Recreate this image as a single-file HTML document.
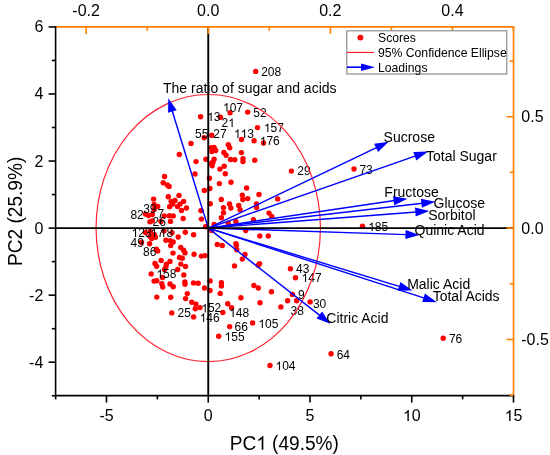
<!DOCTYPE html><html><head><meta charset="utf-8"><style>html,body{margin:0;padding:0;background:#fff;}svg{display:block;will-change:transform;}text{font-family:"Liberation Sans",sans-serif;}</style></head><body>
<svg width="550" height="455" viewBox="0 0 550 455">
<rect width="550" height="455" fill="#fff"/>
<circle cx="255.7" cy="71.4" r="2.7" fill="#FF0000"/>
<circle cx="200.6" cy="116.7" r="2.7" fill="#FF0000"/>
<circle cx="220.5" cy="117.3" r="2.7" fill="#FF0000"/>
<circle cx="230.1" cy="112.7" r="2.7" fill="#FF0000"/>
<circle cx="247.7" cy="112.1" r="2.7" fill="#FF0000"/>
<circle cx="257.5" cy="127.6" r="2.7" fill="#FF0000"/>
<circle cx="204.2" cy="137.8" r="2.7" fill="#FF0000"/>
<circle cx="211.8" cy="135.2" r="2.7" fill="#FF0000"/>
<circle cx="241.5" cy="139.5" r="2.7" fill="#FF0000"/>
<circle cx="254.1" cy="140.8" r="2.7" fill="#FF0000"/>
<circle cx="263.5" cy="143" r="2.7" fill="#FF0000"/>
<circle cx="228.3" cy="144.8" r="2.7" fill="#FF0000"/>
<circle cx="229.7" cy="147.7" r="2.7" fill="#FF0000"/>
<circle cx="211.4" cy="147.7" r="2.7" fill="#FF0000"/>
<circle cx="214.1" cy="147.5" r="2.7" fill="#FF0000"/>
<circle cx="215.7" cy="150.5" r="2.7" fill="#FF0000"/>
<circle cx="211.9" cy="151.6" r="2.7" fill="#FF0000"/>
<circle cx="223.9" cy="152.4" r="2.7" fill="#FF0000"/>
<circle cx="226.1" cy="155.3" r="2.7" fill="#FF0000"/>
<circle cx="241.4" cy="152.6" r="2.7" fill="#FF0000"/>
<circle cx="205.9" cy="159.2" r="2.7" fill="#FF0000"/>
<circle cx="214.1" cy="159.2" r="2.7" fill="#FF0000"/>
<circle cx="213" cy="162.2" r="2.7" fill="#FF0000"/>
<circle cx="211.4" cy="163.3" r="2.7" fill="#FF0000"/>
<circle cx="212.2" cy="165.8" r="2.7" fill="#FF0000"/>
<circle cx="230.5" cy="159.5" r="2.7" fill="#FF0000"/>
<circle cx="234.8" cy="159.7" r="2.7" fill="#FF0000"/>
<circle cx="243" cy="158.6" r="2.7" fill="#FF0000"/>
<circle cx="243" cy="161.6" r="2.7" fill="#FF0000"/>
<circle cx="254.7" cy="160.3" r="2.7" fill="#FF0000"/>
<circle cx="196.1" cy="161.6" r="2.7" fill="#FF0000"/>
<circle cx="224.2" cy="166.2" r="2.7" fill="#FF0000"/>
<circle cx="219.9" cy="169.1" r="2.7" fill="#FF0000"/>
<circle cx="225.3" cy="173.8" r="2.7" fill="#FF0000"/>
<circle cx="195" cy="174" r="2.7" fill="#FF0000"/>
<circle cx="291.4" cy="171.1" r="2.7" fill="#FF0000"/>
<circle cx="191" cy="143.5" r="2.7" fill="#FF0000"/>
<circle cx="179.3" cy="154.5" r="2.7" fill="#FF0000"/>
<circle cx="209.5" cy="178.2" r="2.7" fill="#FF0000"/>
<circle cx="219.4" cy="183.6" r="2.7" fill="#FF0000"/>
<circle cx="231" cy="182.3" r="2.7" fill="#FF0000"/>
<circle cx="246.6" cy="188" r="2.7" fill="#FF0000"/>
<circle cx="204.4" cy="190.4" r="2.7" fill="#FF0000"/>
<circle cx="209.9" cy="188.5" r="2.7" fill="#FF0000"/>
<circle cx="221.3" cy="199.5" r="2.7" fill="#FF0000"/>
<circle cx="242.3" cy="195.3" r="2.7" fill="#FF0000"/>
<circle cx="242.8" cy="199.5" r="2.7" fill="#FF0000"/>
<circle cx="210.3" cy="203.8" r="2.7" fill="#FF0000"/>
<circle cx="229.5" cy="204" r="2.7" fill="#FF0000"/>
<circle cx="230.8" cy="208" r="2.7" fill="#FF0000"/>
<circle cx="223.5" cy="207.6" r="2.7" fill="#FF0000"/>
<circle cx="238.7" cy="205.5" r="2.7" fill="#FF0000"/>
<circle cx="240.1" cy="209.8" r="2.7" fill="#FF0000"/>
<circle cx="223.5" cy="212.8" r="2.7" fill="#FF0000"/>
<circle cx="201.1" cy="210.6" r="2.7" fill="#FF0000"/>
<circle cx="259" cy="194.5" r="2.7" fill="#FF0000"/>
<circle cx="247.7" cy="198.6" r="2.7" fill="#FF0000"/>
<circle cx="277.7" cy="198.9" r="2.7" fill="#FF0000"/>
<circle cx="256.5" cy="204" r="2.7" fill="#FF0000"/>
<circle cx="256.5" cy="207.6" r="2.7" fill="#FF0000"/>
<circle cx="269" cy="213.1" r="2.7" fill="#FF0000"/>
<circle cx="271.8" cy="216.4" r="2.7" fill="#FF0000"/>
<circle cx="253.5" cy="219.8" r="2.7" fill="#FF0000"/>
<circle cx="221.4" cy="217.7" r="2.7" fill="#FF0000"/>
<circle cx="214.1" cy="224.5" r="2.7" fill="#FF0000"/>
<circle cx="228.2" cy="223.2" r="2.7" fill="#FF0000"/>
<circle cx="235.9" cy="221.4" r="2.7" fill="#FF0000"/>
<circle cx="205.7" cy="226.7" r="2.7" fill="#FF0000"/>
<circle cx="211.8" cy="230.5" r="2.7" fill="#FF0000"/>
<circle cx="245.7" cy="230.5" r="2.7" fill="#FF0000"/>
<circle cx="354" cy="169" r="2.7" fill="#FF0000"/>
<circle cx="362.5" cy="226.3" r="2.7" fill="#FF0000"/>
<circle cx="164.5" cy="176.5" r="2.7" fill="#FF0000"/>
<circle cx="163.2" cy="182.7" r="2.7" fill="#FF0000"/>
<circle cx="167.3" cy="185" r="2.7" fill="#FF0000"/>
<circle cx="169.1" cy="186.4" r="2.7" fill="#FF0000"/>
<circle cx="153.6" cy="199.1" r="2.7" fill="#FF0000"/>
<circle cx="168.3" cy="196.8" r="2.7" fill="#FF0000"/>
<circle cx="179" cy="195.4" r="2.7" fill="#FF0000"/>
<circle cx="171.2" cy="201.4" r="2.7" fill="#FF0000"/>
<circle cx="175" cy="200.5" r="2.7" fill="#FF0000"/>
<circle cx="183.6" cy="201.4" r="2.7" fill="#FF0000"/>
<circle cx="172.7" cy="204.1" r="2.7" fill="#FF0000"/>
<circle cx="169.6" cy="206.8" r="2.7" fill="#FF0000"/>
<circle cx="180" cy="204.1" r="2.7" fill="#FF0000"/>
<circle cx="177.5" cy="206.6" r="2.7" fill="#FF0000"/>
<circle cx="186.4" cy="208" r="2.7" fill="#FF0000"/>
<circle cx="181.5" cy="210.5" r="2.7" fill="#FF0000"/>
<circle cx="157.7" cy="206.4" r="2.7" fill="#FF0000"/>
<circle cx="154.1" cy="204.5" r="2.7" fill="#FF0000"/>
<circle cx="145.5" cy="214.1" r="2.7" fill="#FF0000"/>
<circle cx="148.6" cy="215.5" r="2.7" fill="#FF0000"/>
<circle cx="152.3" cy="214.5" r="2.7" fill="#FF0000"/>
<circle cx="150" cy="221.8" r="2.7" fill="#FF0000"/>
<circle cx="152.3" cy="220.9" r="2.7" fill="#FF0000"/>
<circle cx="160.9" cy="221.4" r="2.7" fill="#FF0000"/>
<circle cx="164.2" cy="215.9" r="2.7" fill="#FF0000"/>
<circle cx="169.5" cy="215.7" r="2.7" fill="#FF0000"/>
<circle cx="173.2" cy="215.9" r="2.7" fill="#FF0000"/>
<circle cx="170.5" cy="221.4" r="2.7" fill="#FF0000"/>
<circle cx="183.2" cy="218.5" r="2.7" fill="#FF0000"/>
<circle cx="201.4" cy="219.1" r="2.7" fill="#FF0000"/>
<circle cx="201.1" cy="210.6" r="2.7" fill="#FF0000"/>
<circle cx="154.1" cy="209.5" r="2.7" fill="#FF0000"/>
<circle cx="145.5" cy="232.4" r="2.7" fill="#FF0000"/>
<circle cx="150.5" cy="231.5" r="2.7" fill="#FF0000"/>
<circle cx="150" cy="236.5" r="2.7" fill="#FF0000"/>
<circle cx="151.7" cy="238.5" r="2.7" fill="#FF0000"/>
<circle cx="154.5" cy="234.8" r="2.7" fill="#FF0000"/>
<circle cx="155.4" cy="237.3" r="2.7" fill="#FF0000"/>
<circle cx="164" cy="230.9" r="2.7" fill="#FF0000"/>
<circle cx="172" cy="232.7" r="2.7" fill="#FF0000"/>
<circle cx="165.9" cy="240.2" r="2.7" fill="#FF0000"/>
<circle cx="170.3" cy="240.6" r="2.7" fill="#FF0000"/>
<circle cx="173.2" cy="242" r="2.7" fill="#FF0000"/>
<circle cx="141.5" cy="242.5" r="2.7" fill="#FF0000"/>
<circle cx="149.6" cy="243.8" r="2.7" fill="#FF0000"/>
<circle cx="156.4" cy="249.3" r="2.7" fill="#FF0000"/>
<circle cx="157.7" cy="251.1" r="2.7" fill="#FF0000"/>
<circle cx="170.7" cy="245.6" r="2.7" fill="#FF0000"/>
<circle cx="173" cy="253.1" r="2.7" fill="#FF0000"/>
<circle cx="185.3" cy="232.2" r="2.7" fill="#FF0000"/>
<circle cx="193.6" cy="234.7" r="2.7" fill="#FF0000"/>
<circle cx="178.2" cy="237" r="2.7" fill="#FF0000"/>
<circle cx="180.7" cy="247.5" r="2.7" fill="#FF0000"/>
<circle cx="183.6" cy="250.2" r="2.7" fill="#FF0000"/>
<circle cx="185" cy="252.9" r="2.7" fill="#FF0000"/>
<circle cx="194.1" cy="254.3" r="2.7" fill="#FF0000"/>
<circle cx="201.4" cy="256.1" r="2.7" fill="#FF0000"/>
<circle cx="205" cy="255.6" r="2.7" fill="#FF0000"/>
<circle cx="179.5" cy="257.5" r="2.7" fill="#FF0000"/>
<circle cx="182.3" cy="258.2" r="2.7" fill="#FF0000"/>
<circle cx="161.1" cy="260.4" r="2.7" fill="#FF0000"/>
<circle cx="170" cy="261.4" r="2.7" fill="#FF0000"/>
<circle cx="155" cy="263.5" r="2.7" fill="#FF0000"/>
<circle cx="156.6" cy="266.2" r="2.7" fill="#FF0000"/>
<circle cx="166.4" cy="264.1" r="2.7" fill="#FF0000"/>
<circle cx="165.9" cy="266.8" r="2.7" fill="#FF0000"/>
<circle cx="164.5" cy="269.5" r="2.7" fill="#FF0000"/>
<circle cx="151.2" cy="273.9" r="2.7" fill="#FF0000"/>
<circle cx="162.5" cy="277.5" r="2.7" fill="#FF0000"/>
<circle cx="154.1" cy="281.1" r="2.7" fill="#FF0000"/>
<circle cx="156.8" cy="280.8" r="2.7" fill="#FF0000"/>
<circle cx="161.8" cy="283.8" r="2.7" fill="#FF0000"/>
<circle cx="162.7" cy="287" r="2.7" fill="#FF0000"/>
<circle cx="170" cy="284" r="2.7" fill="#FF0000"/>
<circle cx="173.2" cy="286.8" r="2.7" fill="#FF0000"/>
<circle cx="180.8" cy="264.1" r="2.7" fill="#FF0000"/>
<circle cx="185.5" cy="266.4" r="2.7" fill="#FF0000"/>
<circle cx="177.7" cy="269.5" r="2.7" fill="#FF0000"/>
<circle cx="183.8" cy="274.9" r="2.7" fill="#FF0000"/>
<circle cx="184.9" cy="282" r="2.7" fill="#FF0000"/>
<circle cx="185" cy="284.2" r="2.7" fill="#FF0000"/>
<circle cx="193.5" cy="282.9" r="2.7" fill="#FF0000"/>
<circle cx="198.2" cy="283.2" r="2.7" fill="#FF0000"/>
<circle cx="210.1" cy="280.9" r="2.7" fill="#FF0000"/>
<circle cx="204.5" cy="288" r="2.7" fill="#FF0000"/>
<circle cx="156.8" cy="297.1" r="2.7" fill="#FF0000"/>
<circle cx="170.7" cy="297.3" r="2.7" fill="#FF0000"/>
<circle cx="171.8" cy="312.9" r="2.7" fill="#FF0000"/>
<circle cx="187.3" cy="293.6" r="2.7" fill="#FF0000"/>
<circle cx="185.6" cy="298.6" r="2.7" fill="#FF0000"/>
<circle cx="191.8" cy="302.3" r="2.7" fill="#FF0000"/>
<circle cx="195.9" cy="304.1" r="2.7" fill="#FF0000"/>
<circle cx="195.3" cy="308.8" r="2.7" fill="#FF0000"/>
<circle cx="200" cy="307.6" r="2.7" fill="#FF0000"/>
<circle cx="193.6" cy="316.9" r="2.7" fill="#FF0000"/>
<circle cx="210" cy="290.5" r="2.7" fill="#FF0000"/>
<circle cx="220.2" cy="293.4" r="2.7" fill="#FF0000"/>
<circle cx="221.4" cy="282.7" r="2.7" fill="#FF0000"/>
<circle cx="221.4" cy="285.9" r="2.7" fill="#FF0000"/>
<circle cx="217.3" cy="244.5" r="2.7" fill="#FF0000"/>
<circle cx="222.3" cy="245.5" r="2.7" fill="#FF0000"/>
<circle cx="235.9" cy="243.6" r="2.7" fill="#FF0000"/>
<circle cx="236.4" cy="245.5" r="2.7" fill="#FF0000"/>
<circle cx="236.8" cy="249.8" r="2.7" fill="#FF0000"/>
<circle cx="245" cy="254.5" r="2.7" fill="#FF0000"/>
<circle cx="242.3" cy="259.1" r="2.7" fill="#FF0000"/>
<circle cx="234.5" cy="265.9" r="2.7" fill="#FF0000"/>
<circle cx="259.8" cy="236" r="2.7" fill="#FF0000"/>
<circle cx="268.3" cy="236" r="2.7" fill="#FF0000"/>
<circle cx="259.6" cy="263.6" r="2.7" fill="#FF0000"/>
<circle cx="258.2" cy="265.3" r="2.7" fill="#FF0000"/>
<circle cx="290.4" cy="268.8" r="2.7" fill="#FF0000"/>
<circle cx="295.5" cy="277.8" r="2.7" fill="#FF0000"/>
<circle cx="253.9" cy="285.5" r="2.7" fill="#FF0000"/>
<circle cx="258.3" cy="288" r="2.7" fill="#FF0000"/>
<circle cx="271.4" cy="291.8" r="2.7" fill="#FF0000"/>
<circle cx="292.5" cy="294.4" r="2.7" fill="#FF0000"/>
<circle cx="287.6" cy="300.8" r="2.7" fill="#FF0000"/>
<circle cx="296.6" cy="300.8" r="2.7" fill="#FF0000"/>
<circle cx="310.1" cy="301.9" r="2.7" fill="#FF0000"/>
<circle cx="280.9" cy="306.9" r="2.7" fill="#FF0000"/>
<circle cx="260" cy="302.7" r="2.7" fill="#FF0000"/>
<circle cx="240.9" cy="297.7" r="2.7" fill="#FF0000"/>
<circle cx="227.7" cy="303.8" r="2.7" fill="#FF0000"/>
<circle cx="231.6" cy="307.7" r="2.7" fill="#FF0000"/>
<circle cx="222.8" cy="312.5" r="2.7" fill="#FF0000"/>
<circle cx="229.7" cy="326.6" r="2.7" fill="#FF0000"/>
<circle cx="252.6" cy="322.9" r="2.7" fill="#FF0000"/>
<circle cx="218.7" cy="336.3" r="2.7" fill="#FF0000"/>
<circle cx="270" cy="365.5" r="2.7" fill="#FF0000"/>
<circle cx="331.1" cy="353.8" r="2.7" fill="#FF0000"/>
<circle cx="443.2" cy="338.2" r="2.7" fill="#FF0000"/>
<g transform="matrix(1 0 0 1.045 0 -3.424)"><text x="261.20" y="76.10" font-size="12" fill="#000">208</text></g>
<g transform="matrix(1 0 0 1.045 0 -5.022)"><text x="222.99" y="111.60" font-size="12" style="font-kerning:none" fill="#000"> 07</text><path transform="translate(222.99,111.60) scale(0.00586,-0.00563)" d="M763,0 L583,0 L583,1147 Q518,1085 412,1023 Q307,961 223,930 L223,1104 Q374,1175 487,1272 Q600,1369 653,1466 L763,1466 Z" fill="#000"/></g>
<g transform="matrix(1 0 0 1.045 0 -5.265)"><text x="253.22" y="117.00" font-size="12" fill="#000">52</text></g>
<g transform="matrix(1 0 0 1.045 0 -5.445)"><text x="207.19" y="121.00" font-size="12" style="font-kerning:none" fill="#000"> 3</text><path transform="translate(207.19,121.00) scale(0.00586,-0.00563)" d="M763,0 L583,0 L583,1147 Q518,1085 412,1023 Q307,961 223,930 L223,1104 Q374,1175 487,1272 Q600,1369 653,1466 L763,1466 Z" fill="#000"/></g>
<g transform="matrix(1 0 0 1.045 0 -5.715)"><text x="221.50" y="127.00" font-size="12" style="font-kerning:none" fill="#000">2 </text><path transform="translate(228.17,127.00) scale(0.00586,-0.00563)" d="M763,0 L583,0 L583,1147 Q518,1085 412,1023 Q307,961 223,930 L223,1104 Q374,1175 487,1272 Q600,1369 653,1466 L763,1466 Z" fill="#000"/></g>
<g transform="matrix(1 0 0 1.045 0 -5.940)"><text x="263.89" y="132.00" font-size="12" style="font-kerning:none" fill="#000"> 57</text><path transform="translate(263.89,132.00) scale(0.00586,-0.00563)" d="M763,0 L583,0 L583,1147 Q518,1085 412,1023 Q307,961 223,930 L223,1104 Q374,1175 487,1272 Q600,1369 653,1466 L763,1466 Z" fill="#000"/></g>
<g transform="matrix(1 0 0 1.045 0 -6.205)"><text x="195.12" y="137.90" font-size="12" fill="#000">55</text></g>
<g transform="matrix(1 0 0 1.045 0 -6.205)"><text x="213.30" y="137.90" font-size="12" fill="#000">27</text></g>
<g transform="matrix(1 0 0 1.045 0 -6.205)"><text x="233.99" y="137.90" font-size="12" style="font-kerning:none" fill="#000">  3</text><path transform="translate(233.99,137.90) scale(0.00586,-0.00563)" d="M763,0 L583,0 L583,1147 Q518,1085 412,1023 Q307,961 223,930 L223,1104 Q374,1175 487,1272 Q600,1369 653,1466 L763,1466 Z" fill="#000"/><path transform="translate(240.67,137.90) scale(0.00586,-0.00563)" d="M763,0 L583,0 L583,1147 Q518,1085 412,1023 Q307,961 223,930 L223,1104 Q374,1175 487,1272 Q600,1369 653,1466 L763,1466 Z" fill="#000"/></g>
<g transform="matrix(1 0 0 1.045 0 -6.538)"><text x="259.79" y="145.30" font-size="12" style="font-kerning:none" fill="#000"> 76</text><path transform="translate(259.79,145.30) scale(0.00586,-0.00563)" d="M763,0 L583,0 L583,1147 Q518,1085 412,1023 Q307,961 223,930 L223,1104 Q374,1175 487,1272 Q600,1369 653,1466 L763,1466 Z" fill="#000"/></g>
<g transform="matrix(1 0 0 1.045 0 -7.884)"><text x="297.30" y="175.20" font-size="12" fill="#000">29</text></g>
<g transform="matrix(1 0 0 1.045 0 -7.816)"><text x="359.39" y="173.70" font-size="12" fill="#000">73</text></g>
<g transform="matrix(1 0 0 1.045 0 -10.395)"><text x="368.19" y="231.00" font-size="12" style="font-kerning:none" fill="#000"> 85</text><path transform="translate(368.19,231.00) scale(0.00586,-0.00563)" d="M763,0 L583,0 L583,1147 Q518,1085 412,1023 Q307,961 223,930 L223,1104 Q374,1175 487,1272 Q600,1369 653,1466 L763,1466 Z" fill="#000"/></g>
<g transform="matrix(1 0 0 1.045 0 -9.841)"><text x="130.38" y="218.70" font-size="12" fill="#000">82</text></g>
<g transform="matrix(1 0 0 1.045 0 -9.594)"><text x="143.14" y="213.20" font-size="12" fill="#000">39</text></g>
<g transform="matrix(1 0 0 1.045 0 -9.819)"><text x="157.59" y="218.20" font-size="12" fill="#000">7</text></g>
<g transform="matrix(1 0 0 1.045 0 -10.170)"><text x="152.60" y="226.00" font-size="12" fill="#000">26</text></g>
<g transform="matrix(1 0 0 1.045 0 -10.660)"><text x="131.59" y="236.90" font-size="12" style="font-kerning:none" fill="#000"> 23</text><path transform="translate(131.59,236.90) scale(0.00586,-0.00563)" d="M763,0 L583,0 L583,1147 Q518,1085 412,1023 Q307,961 223,930 L223,1104 Q374,1175 487,1272 Q600,1369 653,1466 L763,1466 Z" fill="#000"/></g>
<g transform="matrix(1 0 0 1.045 0 -10.660)"><text x="150.59" y="236.90" font-size="12" style="font-kerning:none" fill="#000"> 7</text><path transform="translate(150.59,236.90) scale(0.00586,-0.00563)" d="M763,0 L583,0 L583,1147 Q518,1085 412,1023 Q307,961 223,930 L223,1104 Q374,1175 487,1272 Q600,1369 653,1466 L763,1466 Z" fill="#000"/></g>
<g transform="matrix(1 0 0 1.045 0 -10.660)"><text x="159.79" y="236.90" font-size="12" style="font-kerning:none" fill="#000"> 8</text><path transform="translate(159.79,236.90) scale(0.00586,-0.00563)" d="M763,0 L583,0 L583,1147 Q518,1085 412,1023 Q307,961 223,930 L223,1104 Q374,1175 487,1272 Q600,1369 653,1466 L763,1466 Z" fill="#000"/></g>
<g transform="matrix(1 0 0 1.045 0 -11.106)"><text x="130.62" y="246.80" font-size="12" fill="#000">49</text></g>
<g transform="matrix(1 0 0 1.045 0 -11.502)"><text x="143.08" y="255.60" font-size="12" fill="#000">86</text></g>
<g transform="matrix(1 0 0 1.045 0 -12.519)"><text x="156.39" y="278.20" font-size="12" style="font-kerning:none" fill="#000"> 58</text><path transform="translate(156.39,278.20) scale(0.00586,-0.00563)" d="M763,0 L583,0 L583,1147 Q518,1085 412,1023 Q307,961 223,930 L223,1104 Q374,1175 487,1272 Q600,1369 653,1466 L763,1466 Z" fill="#000"/></g>
<g transform="matrix(1 0 0 1.045 0 -14.278)"><text x="177.50" y="317.30" font-size="12" fill="#000">25</text></g>
<g transform="matrix(1 0 0 1.045 0 -14.062)"><text x="201.29" y="312.50" font-size="12" style="font-kerning:none" fill="#000"> 52</text><path transform="translate(201.29,312.50) scale(0.00586,-0.00563)" d="M763,0 L583,0 L583,1147 Q518,1085 412,1023 Q307,961 223,930 L223,1104 Q374,1175 487,1272 Q600,1369 653,1466 L763,1466 Z" fill="#000"/></g>
<g transform="matrix(1 0 0 1.045 0 -14.485)"><text x="199.69" y="321.90" font-size="12" style="font-kerning:none" fill="#000"> 46</text><path transform="translate(199.69,321.90) scale(0.00586,-0.00563)" d="M763,0 L583,0 L583,1147 Q518,1085 412,1023 Q307,961 223,930 L223,1104 Q374,1175 487,1272 Q600,1369 653,1466 L763,1466 Z" fill="#000"/></g>
<g transform="matrix(1 0 0 1.045 0 -14.260)"><text x="229.19" y="316.90" font-size="12" style="font-kerning:none" fill="#000"> 48</text><path transform="translate(229.19,316.90) scale(0.00586,-0.00563)" d="M763,0 L583,0 L583,1147 Q518,1085 412,1023 Q307,961 223,930 L223,1104 Q374,1175 487,1272 Q600,1369 653,1466 L763,1466 Z" fill="#000"/></g>
<g transform="matrix(1 0 0 1.045 0 -14.904)"><text x="234.59" y="331.20" font-size="12" fill="#000">66</text></g>
<g transform="matrix(1 0 0 1.045 0 -15.336)"><text x="224.59" y="340.80" font-size="12" style="font-kerning:none" fill="#000"> 55</text><path transform="translate(224.59,340.80) scale(0.00586,-0.00563)" d="M763,0 L583,0 L583,1147 Q518,1085 412,1023 Q307,961 223,930 L223,1104 Q374,1175 487,1272 Q600,1369 653,1466 L763,1466 Z" fill="#000"/></g>
<g transform="matrix(1 0 0 1.045 0 -14.760)"><text x="258.39" y="328.00" font-size="12" style="font-kerning:none" fill="#000"> 05</text><path transform="translate(258.39,328.00) scale(0.00586,-0.00563)" d="M763,0 L583,0 L583,1147 Q518,1085 412,1023 Q307,961 223,930 L223,1104 Q374,1175 487,1272 Q600,1369 653,1466 L763,1466 Z" fill="#000"/></g>
<g transform="matrix(1 0 0 1.045 0 -16.659)"><text x="275.49" y="370.20" font-size="12" style="font-kerning:none" fill="#000"> 04</text><path transform="translate(275.49,370.20) scale(0.00586,-0.00563)" d="M763,0 L583,0 L583,1147 Q518,1085 412,1023 Q307,961 223,930 L223,1104 Q374,1175 487,1272 Q600,1369 653,1466 L763,1466 Z" fill="#000"/></g>
<g transform="matrix(1 0 0 1.045 0 -16.141)"><text x="336.69" y="358.70" font-size="12" fill="#000">64</text></g>
<g transform="matrix(1 0 0 1.045 0 -15.426)"><text x="448.89" y="342.80" font-size="12" fill="#000">76</text></g>
<g transform="matrix(1 0 0 1.045 0 -12.303)"><text x="296.12" y="273.40" font-size="12" fill="#000">43</text></g>
<g transform="matrix(1 0 0 1.045 0 -12.694)"><text x="301.59" y="282.10" font-size="12" style="font-kerning:none" fill="#000"> 47</text><path transform="translate(301.59,282.10) scale(0.00586,-0.00563)" d="M763,0 L583,0 L583,1147 Q518,1085 412,1023 Q307,961 223,930 L223,1104 Q374,1175 487,1272 Q600,1369 653,1466 L763,1466 Z" fill="#000"/></g>
<g transform="matrix(1 0 0 1.045 0 -13.459)"><text x="298.04" y="299.10" font-size="12" fill="#000">9</text></g>
<g transform="matrix(1 0 0 1.045 0 -14.175)"><text x="290.54" y="315.00" font-size="12" fill="#000">38</text></g>
<g transform="matrix(1 0 0 1.045 0 -13.855)"><text x="312.94" y="307.90" font-size="12" fill="#000">30</text></g>
<ellipse cx="208.25" cy="228.1" rx="112.2" ry="133.6" fill="none" stroke="#FF2434" stroke-width="1.2"/>
<line x1="208.25" y1="228.1" x2="172.09" y2="110.56" stroke="#0000FF" stroke-width="1.45"/>
<polygon points="168.26,98.14 176.68,110.19 168.08,112.84" fill="#0000FF"/>
<line x1="208.25" y1="228.1" x2="376.99" y2="147.46" stroke="#0000FF" stroke-width="1.45"/>
<polygon points="388.72,141.86 378.03,151.95 374.15,143.83" fill="#0000FF"/>
<line x1="208.25" y1="228.1" x2="415.78" y2="155.81" stroke="#0000FF" stroke-width="1.45"/>
<polygon points="428.06,151.54 416.31,160.39 413.35,151.89" fill="#0000FF"/>
<line x1="208.25" y1="228.1" x2="394.63" y2="200.58" stroke="#0000FF" stroke-width="1.45"/>
<polygon points="407.49,198.68 394.30,205.18 392.98,196.28" fill="#0000FF"/>
<line x1="208.25" y1="228.1" x2="422.38" y2="203.21" stroke="#0000FF" stroke-width="1.45"/>
<polygon points="435.29,201.71 421.91,207.79 420.87,198.85" fill="#0000FF"/>
<line x1="208.25" y1="228.1" x2="416.34" y2="211.94" stroke="#0000FF" stroke-width="1.45"/>
<polygon points="429.30,210.94 415.69,216.51 414.99,207.54" fill="#0000FF"/>
<line x1="208.25" y1="228.1" x2="406.51" y2="234.60" stroke="#0000FF" stroke-width="1.45"/>
<polygon points="419.50,235.03 405.36,239.07 405.65,230.07" fill="#0000FF"/>
<line x1="208.25" y1="228.1" x2="400.03" y2="286.64" stroke="#0000FF" stroke-width="1.45"/>
<polygon points="412.47,290.43 397.76,290.65 400.39,282.04" fill="#0000FF"/>
<line x1="208.25" y1="228.1" x2="424.49" y2="298.14" stroke="#0000FF" stroke-width="1.45"/>
<polygon points="436.86,302.15 422.16,302.11 424.93,293.55" fill="#0000FF"/>
<line x1="208.25" y1="228.1" x2="320.09" y2="315.68" stroke="#0000FF" stroke-width="1.45"/>
<polygon points="330.33,323.69 316.53,318.60 322.08,311.52" fill="#0000FF"/>
<g transform="matrix(1 0 0 1.0 0 0.000)"><text x="162.99" y="93.40" font-size="14.0" fill="#000">The ratio of sugar and acids</text></g>
<g transform="matrix(1 0 0 1.0 0 0.000)"><text x="383.57" y="142.10" font-size="14.0" fill="#000">Sucrose</text></g>
<g transform="matrix(1 0 0 1.0 0 0.000)"><text x="425.99" y="161.00" font-size="14.0" fill="#000">Total Sugar</text></g>
<g transform="matrix(1 0 0 1.0 0 0.000)"><text x="384.35" y="197.10" font-size="14.0" fill="#000">Fructose</text></g>
<g transform="matrix(1 0 0 1.0 0 0.000)"><text x="433.60" y="207.80" font-size="14.0" fill="#000">Glucose</text></g>
<g transform="matrix(1 0 0 1.0 0 0.000)"><text x="428.17" y="220.10" font-size="14.0" fill="#000">Sorbitol</text></g>
<g transform="matrix(1 0 0 1.0 0 0.000)"><text x="414.54" y="234.50" font-size="14.0" fill="#000">Quinic Acid</text></g>
<g transform="matrix(1 0 0 1.0 0 0.000)"><text x="407.15" y="289.10" font-size="14.0" fill="#000">Malic Acid</text></g>
<g transform="matrix(1 0 0 1.0 0 0.000)"><text x="432.69" y="301.10" font-size="14.0" fill="#000">Total Acids</text></g>
<g transform="matrix(1 0 0 1.0 0 0.000)"><text x="326.29" y="322.70" font-size="14.0" fill="#000">Citric Acid</text></g>
<line x1="208.25" y1="27" x2="208.25" y2="395.6" stroke="#000" stroke-width="1.9"/>
<line x1="55.6" y1="228.1" x2="513.5" y2="228.1" stroke="#000" stroke-width="1.9"/>
<path d="M55.6,26.9 H513.5 V395.6" fill="none" stroke="#FF8000" stroke-width="1.65" stroke-linejoin="miter"/>
<line x1="55.6" y1="26.2" x2="55.6" y2="395.6" stroke="#000" stroke-width="1.6"/>
<line x1="55.6" y1="395.6" x2="514.3" y2="395.6" stroke="#000" stroke-width="1.6"/>
<line x1="51.800000000000004" y1="395.75" x2="55.6" y2="395.75" stroke="#000" stroke-width="1.6"/>
<line x1="48.6" y1="362.22" x2="55.6" y2="362.22" stroke="#000" stroke-width="1.6"/>
<g transform="matrix(1 0 0 1.01 0 -3.677)"><text x="43.30" y="367.72" font-size="16" text-anchor="end" fill="#000">-4</text></g>
<line x1="51.800000000000004" y1="328.69" x2="55.6" y2="328.69" stroke="#000" stroke-width="1.6"/>
<line x1="48.6" y1="295.16" x2="55.6" y2="295.16" stroke="#000" stroke-width="1.6"/>
<g transform="matrix(1 0 0 1.01 0 -3.007)"><text x="43.30" y="300.66" font-size="16" text-anchor="end" fill="#000">-2</text></g>
<line x1="51.800000000000004" y1="261.63" x2="55.6" y2="261.63" stroke="#000" stroke-width="1.6"/>
<line x1="48.6" y1="228.10" x2="55.6" y2="228.10" stroke="#000" stroke-width="1.6"/>
<g transform="matrix(1 0 0 1.01 0 -2.336)"><text x="43.30" y="233.60" font-size="16" text-anchor="end" fill="#000">0</text></g>
<line x1="51.800000000000004" y1="194.57" x2="55.6" y2="194.57" stroke="#000" stroke-width="1.6"/>
<line x1="48.6" y1="161.04" x2="55.6" y2="161.04" stroke="#000" stroke-width="1.6"/>
<g transform="matrix(1 0 0 1.01 0 -1.665)"><text x="43.30" y="166.54" font-size="16" text-anchor="end" fill="#000">2</text></g>
<line x1="51.800000000000004" y1="127.51" x2="55.6" y2="127.51" stroke="#000" stroke-width="1.6"/>
<line x1="48.6" y1="93.98" x2="55.6" y2="93.98" stroke="#000" stroke-width="1.6"/>
<g transform="matrix(1 0 0 1.01 0 -0.995)"><text x="43.30" y="99.48" font-size="16" text-anchor="end" fill="#000">4</text></g>
<line x1="51.800000000000004" y1="60.45" x2="55.6" y2="60.45" stroke="#000" stroke-width="1.6"/>
<line x1="48.6" y1="26.92" x2="55.6" y2="26.92" stroke="#000" stroke-width="1.6"/>
<g transform="matrix(1 0 0 1.01 0 -0.324)"><text x="43.30" y="32.42" font-size="16" text-anchor="end" fill="#000">6</text></g>
<line x1="55.62" y1="395.6" x2="55.62" y2="399.40000000000003" stroke="#000" stroke-width="1.6"/>
<line x1="106.50" y1="395.6" x2="106.50" y2="402.6" stroke="#000" stroke-width="1.6"/>
<g transform="matrix(1 0 0 1.01 0 -4.211)"><text x="106.50" y="421.10" font-size="16" text-anchor="middle" fill="#000">-5</text></g>
<line x1="157.38" y1="395.6" x2="157.38" y2="399.40000000000003" stroke="#000" stroke-width="1.6"/>
<line x1="208.25" y1="395.6" x2="208.25" y2="402.6" stroke="#000" stroke-width="1.6"/>
<g transform="matrix(1 0 0 1.01 0 -4.211)"><text x="208.25" y="421.10" font-size="16" text-anchor="middle" fill="#000">0</text></g>
<line x1="259.12" y1="395.6" x2="259.12" y2="399.40000000000003" stroke="#000" stroke-width="1.6"/>
<line x1="310.00" y1="395.6" x2="310.00" y2="402.6" stroke="#000" stroke-width="1.6"/>
<g transform="matrix(1 0 0 1.01 0 -4.211)"><text x="310.00" y="421.10" font-size="16" text-anchor="middle" fill="#000">5</text></g>
<line x1="360.88" y1="395.6" x2="360.88" y2="399.40000000000003" stroke="#000" stroke-width="1.6"/>
<line x1="411.75" y1="395.6" x2="411.75" y2="402.6" stroke="#000" stroke-width="1.6"/>
<g transform="matrix(1 0 0 1.01 0 -4.211)"><text x="402.85" y="421.10" font-size="16" style="font-kerning:none" fill="#000"> 0</text><path transform="translate(402.85,421.10) scale(0.00781,-0.00751)" d="M763,0 L583,0 L583,1147 Q518,1085 412,1023 Q307,961 223,930 L223,1104 Q374,1175 487,1272 Q600,1369 653,1466 L763,1466 Z" fill="#000"/></g>
<line x1="462.62" y1="395.6" x2="462.62" y2="399.40000000000003" stroke="#000" stroke-width="1.6"/>
<line x1="513.50" y1="395.6" x2="513.50" y2="402.6" stroke="#000" stroke-width="1.6"/>
<g transform="matrix(1 0 0 1.01 0 -4.211)"><text x="504.60" y="421.10" font-size="16" style="font-kerning:none" fill="#000"> 5</text><path transform="translate(504.60,421.10) scale(0.00781,-0.00751)" d="M763,0 L583,0 L583,1147 Q518,1085 412,1023 Q307,961 223,930 L223,1104 Q374,1175 487,1272 Q600,1369 653,1466 L763,1466 Z" fill="#000"/></g>
<line x1="86.15" y1="26.9" x2="86.15" y2="33.9" stroke="#FF8000" stroke-width="1.6"/>
<g transform="matrix(1 0 0 1.01 0 -0.160)"><text x="86.15" y="16.00" font-size="16" text-anchor="middle" fill="#000">-0.2</text></g>
<line x1="147.20" y1="26.9" x2="147.20" y2="30.7" stroke="#FF8000" stroke-width="1.6"/>
<line x1="208.25" y1="26.9" x2="208.25" y2="33.9" stroke="#FF8000" stroke-width="1.6"/>
<g transform="matrix(1 0 0 1.01 0 -0.160)"><text x="208.25" y="16.00" font-size="16" text-anchor="middle" fill="#000">0.0</text></g>
<line x1="269.30" y1="26.9" x2="269.30" y2="30.7" stroke="#FF8000" stroke-width="1.6"/>
<line x1="330.35" y1="26.9" x2="330.35" y2="33.9" stroke="#FF8000" stroke-width="1.6"/>
<g transform="matrix(1 0 0 1.01 0 -0.160)"><text x="330.35" y="16.00" font-size="16" text-anchor="middle" fill="#000">0.2</text></g>
<line x1="391.40" y1="26.9" x2="391.40" y2="30.7" stroke="#FF8000" stroke-width="1.6"/>
<line x1="452.45" y1="26.9" x2="452.45" y2="33.9" stroke="#FF8000" stroke-width="1.6"/>
<g transform="matrix(1 0 0 1.01 0 -0.160)"><text x="452.45" y="16.00" font-size="16" text-anchor="middle" fill="#000">0.4</text></g>
<line x1="513.50" y1="26.9" x2="513.50" y2="30.7" stroke="#FF8000" stroke-width="1.6"/>
<line x1="509.7" y1="395.20" x2="513.5" y2="395.20" stroke="#FF8000" stroke-width="1.6"/>
<line x1="506.5" y1="339.50" x2="513.5" y2="339.50" stroke="#FF8000" stroke-width="1.6"/>
<g transform="matrix(1 0 0 1.01 0 -3.450)"><text x="521.30" y="345.00" font-size="16" fill="#000">-0.5</text></g>
<line x1="509.7" y1="283.80" x2="513.5" y2="283.80" stroke="#FF8000" stroke-width="1.6"/>
<line x1="506.5" y1="228.10" x2="513.5" y2="228.10" stroke="#FF8000" stroke-width="1.6"/>
<g transform="matrix(1 0 0 1.01 0 -2.336)"><text x="521.30" y="233.60" font-size="16" fill="#000">0.0</text></g>
<line x1="509.7" y1="172.40" x2="513.5" y2="172.40" stroke="#FF8000" stroke-width="1.6"/>
<line x1="506.5" y1="116.70" x2="513.5" y2="116.70" stroke="#FF8000" stroke-width="1.6"/>
<g transform="matrix(1 0 0 1.01 0 -1.222)"><text x="521.30" y="122.20" font-size="16" fill="#000">0.5</text></g>
<line x1="509.7" y1="61.00" x2="513.5" y2="61.00" stroke="#FF8000" stroke-width="1.6"/>
<g transform="matrix(1 0 0 1.04 0 -17.988)"><text x="229.70" y="449.70" font-size="19.1" style="font-kerning:none" fill="#000">PC  (49.5%)</text><path transform="translate(256.23,449.70) scale(0.00933,-0.00896)" d="M763,0 L583,0 L583,1147 Q518,1085 412,1023 Q307,961 223,930 L223,1104 Q374,1175 487,1272 Q600,1369 653,1466 L763,1466 Z" fill="#000"/></g>
<g transform="translate(21.8,266) rotate(-90)"><g transform="matrix(1 0 0 1.04 0 -0.000)"><text x="0.00" y="0.00" font-size="19.1" fill="#000">PC2 (25.9%)</text></g></g>
<rect x="346.8" y="30.8" width="160" height="43.2" fill="#fff" stroke="#8a8a8a" stroke-width="1.15"/>
<circle cx="360.4" cy="37.6" r="2.95" fill="#FF0000"/>
<g transform="matrix(1 0 0 1.0 0 0.000)"><text x="378.00" y="41.90" font-size="12.2" fill="#000">Scores</text></g>
<line x1="347" y1="52.4" x2="374" y2="52.4" stroke="#FF0000" stroke-width="1"/>
<g transform="matrix(1 0 0 1.0 0 0.000)"><text x="378.00" y="56.60" font-size="12.2" fill="#000">95% Confidence Ellipse</text></g>
<line x1="347" y1="67.2" x2="362" y2="67.2" stroke="#0000FF" stroke-width="1.6"/>
<polygon points="375,67.2 361,63.5 361,70.9" fill="#0000FF"/>
<g transform="matrix(1 0 0 1.0 0 0.000)"><text x="378.00" y="71.70" font-size="12.2" fill="#000">Loadings</text></g>
</svg></body></html>
